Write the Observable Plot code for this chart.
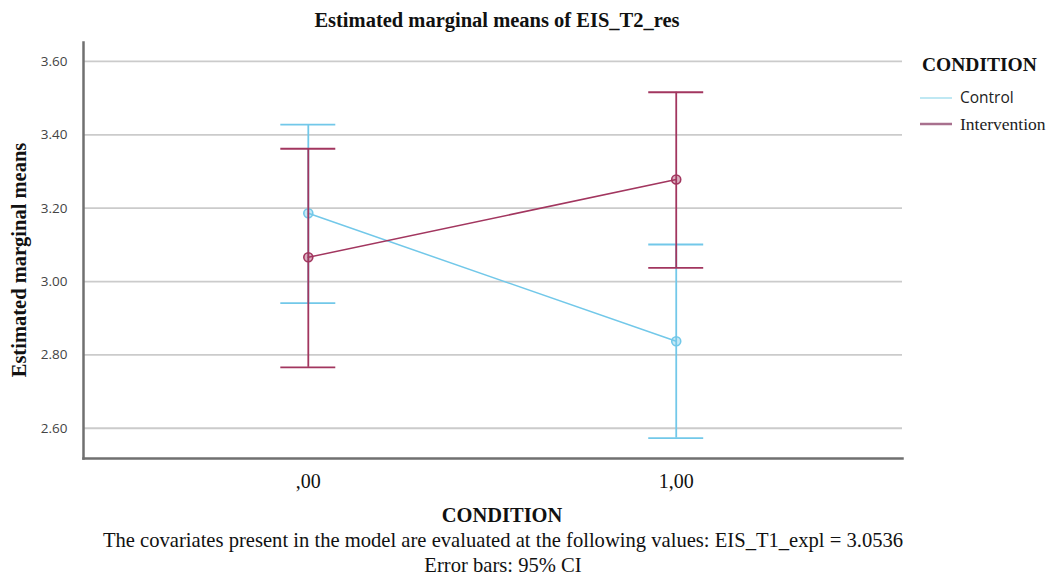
<!DOCTYPE html>
<html>
<head>
<meta charset="utf-8">
<script src="https://cdn.jsdelivr.net/npm/d3@7"></script>
<script src="https://cdn.jsdelivr.net/npm/@observablehq/plot@0.6"></script>
<style>
  html, body { margin: 0; padding: 0; background: #fff; }
  #wrap { position: relative; width: 1053px; height: 578px; overflow: hidden; background: #fff; }
  #chart, #overlay { position: absolute; left: 0; top: 0; }
</style>
</head>
<body>
<div id="wrap">
  <div id="chart"></div>
  <svg id="overlay" width="1053" height="578"></svg>
</div>
<script>
// ---- data ----
const conditions = [0, 1];
const conditionLabels = [",00", "1,00"];
const seriesNames = ["Control", "Intervention"];
const controlMean = [3.186, 2.837];
const controlLow = [2.941, 2.573];
const controlHigh = [3.428, 3.101];
const interventionMean = [3.066, 3.278];
const interventionLow = [2.766, 3.037];
const interventionHigh = [3.362, 3.516];
const yTicks = [2.6, 2.8, 3.0, 3.2, 3.4, 3.6];

const colors = { Control: "#72c8e9", Intervention: "#a2365f" };

const rows = [];
conditions.forEach((c, i) => rows.push({ series: "Control", x: c, mean: controlMean[i], low: controlLow[i], high: controlHigh[i] }));
conditions.forEach((c, i) => rows.push({ series: "Intervention", x: c, mean: interventionMean[i], low: interventionLow[i], high: interventionHigh[i] }));

const capHalf = 0.0747; // half width of error bar caps in x units
const serif = "'Liberation Serif', 'Times New Roman', serif";
const sans = "'Open Sans', 'Noto Sans', sans-serif";

const plot = Plot.plot({
  width: 1053,
  height: 578,
  marginLeft: 83,
  marginRight: 151,
  marginTop: 42,
  marginBottom: 120,
  style: { background: "transparent", overflow: "visible" },
  x: { type: "linear", domain: [-0.611, 1.615] },
  y: { domain: [2.5175, 3.6517] },
  color: { domain: seriesNames, range: seriesNames.map(s => colors[s]) },
  marks: [
    Plot.gridY(yTicks, { stroke: "#cbcbcb", strokeOpacity: 1, strokeWidth: 1.8 }),
    Plot.axisY(yTicks, {
      tickSize: 0, tickPadding: 16, tickFormat: d3.format(".2f"),
      fontSize: 13.5, fontFamily: sans, fill: "#444", label: null
    }),
    Plot.axisX(conditions, {
      tickSize: 0, tickPadding: 15, tickFormat: (d, i) => conditionLabels[i],
      fontSize: 20, fontFamily: serif, fill: "#111", label: null
    }),
    Plot.frame({ anchor: "left", stroke: "#707070", strokeWidth: 2.5 }),
    Plot.frame({ anchor: "bottom", stroke: "#707070", strokeWidth: 2.5 }),
    // Control first, Intervention on top
    ...seriesNames.map(s => {
      const d = rows.filter(r => r.series === s);
      return [
        Plot.line(d, { x: "x", y: "mean", stroke: colors[s], strokeWidth: 1.5 }),
        Plot.ruleX(d, { x: "x", y1: "low", y2: "high", stroke: colors[s], strokeWidth: 1.8 }),
        Plot.ruleY(d, { y: "low", x1: r => r.x - capHalf, x2: r => r.x + capHalf, stroke: colors[s], strokeWidth: 1.8 }),
        Plot.ruleY(d, { y: "high", x1: r => r.x - capHalf, x2: r => r.x + capHalf, stroke: colors[s], strokeWidth: 1.8 }),
        Plot.dot(d, { x: "x", y: "mean", r: 4.5, stroke: colors[s], strokeWidth: 1.6, fill: colors[s], fillOpacity: 0.4 })
      ];
    })
  ]
});
document.getElementById("chart").appendChild(plot);

// ---- titles, footnotes and legend ----
const svg = d3.select("#overlay");
function txt(x, y, s, opts) {
  const t = svg.append("text").attr("x", x).attr("y", y).text(s)
    .attr("font-family", opts.family || serif)
    .attr("font-size", opts.size)
    .attr("font-weight", opts.weight || "normal")
    .attr("fill", opts.fill || "#111")
    .attr("text-anchor", opts.anchor || "start");
  if (opts.rotate) t.attr("transform", `rotate(-90 ${x} ${y})`);
  return t;
}
txt(497, 27, "Estimated marginal means of EIS_T2_res", { size: 20.5, weight: "bold", anchor: "middle" });
txt(26, 260, "Estimated marginal means", { size: 20.5, weight: "bold", anchor: "middle", rotate: true });
txt(502, 522, "CONDITION", { size: 20.5, weight: "bold", anchor: "middle" });
txt(503, 547, "The covariates present in the model are evaluated at the following values: EIS_T1_expl = 3.0536", { size: 20.6, anchor: "middle" });
txt(503, 572, "Error bars: 95% CI", { size: 20.6, anchor: "middle" });

// legend
txt(922, 71, "CONDITION", { size: 19.5, weight: "bold" });
const legendItems = [
  { name: "Control", y: 98, color: "#bfe8f3", w: 2, family: sans, size: 15.5, base: 103 },
  { name: "Intervention", y: 124, color: "#a8708e", w: 2.5, family: serif, size: 17.5, base: 130 }
];
legendItems.forEach(it => {
  svg.append("line").attr("x1", 920).attr("x2", 952).attr("y1", it.y).attr("y2", it.y)
    .attr("stroke", it.color).attr("stroke-width", it.w);
  txt(960, it.base, it.name, { size: it.size, family: it.family, fill: "#222" });
});
</script>
</body>
</html>
